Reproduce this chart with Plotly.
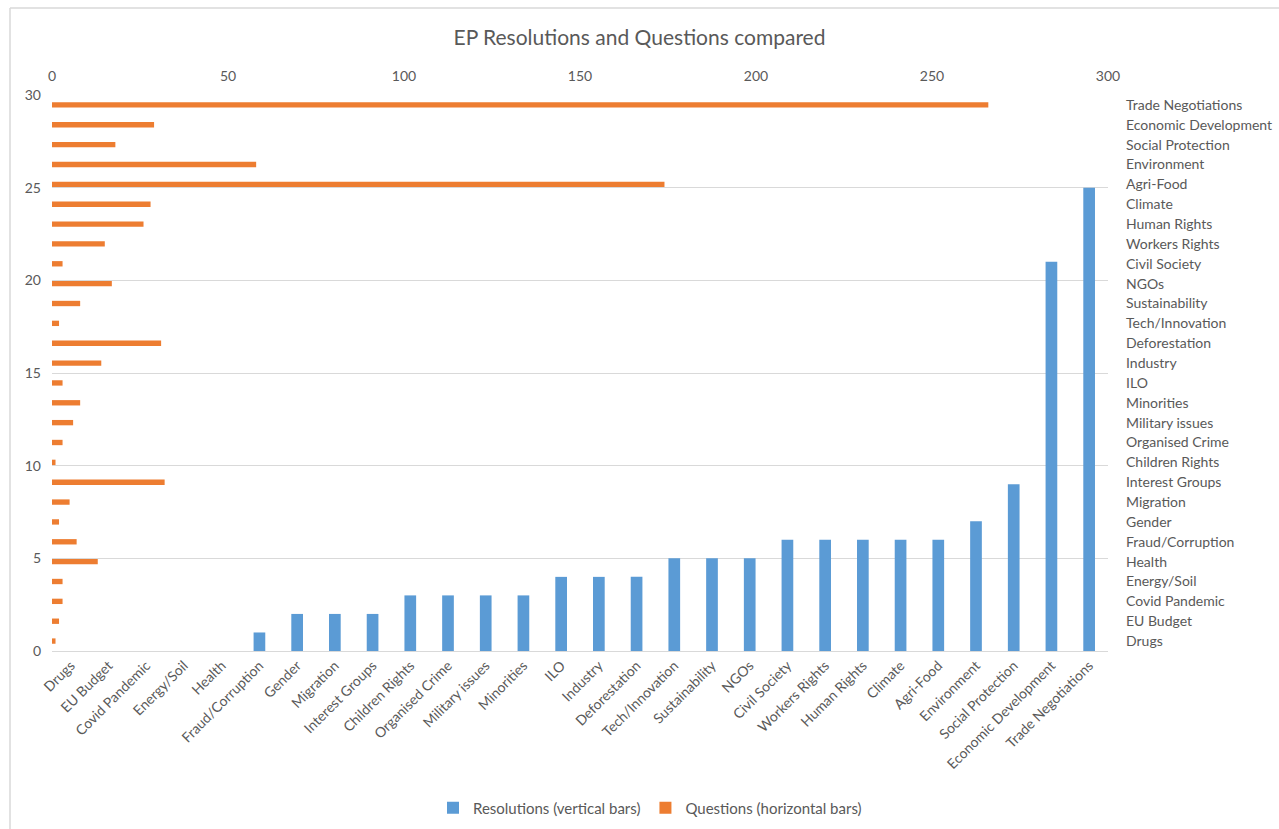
import plotly.graph_objects as go

# Policy topics, ordered by number of EP resolutions
categories = [
    "Drugs", "EU Budget", "Covid Pandemic", "Energy/Soil", "Health",
    "Fraud/Corruption", "Gender", "Migration", "Interest Groups",
    "Children Rights", "Organised Crime", "Military issues", "Minorities",
    "ILO", "Industry", "Deforestation", "Tech/Innovation", "Sustainability",
    "NGOs", "Civil Society", "Workers Rights", "Human Rights", "Climate",
    "Agri-Food", "Environment", "Social Protection", "Economic Development",
    "Trade Negotiations",
]

# Number of resolutions per topic (vertical bars, left axis)
resolutions = [0, 0, 0, 0, 0, 1, 2, 2, 2, 3, 3, 3, 3, 4, 4, 4, 5, 5, 5,
               6, 6, 6, 6, 6, 7, 9, 21, 25]

# Number of parliamentary questions per topic (horizontal bars, top axis)
questions = [1, 2, 3, 3, 13, 7, 2, 5, 32, 1, 3, 6, 8, 3, 14, 31, 2, 8,
             17, 3, 15, 26, 28, 174, 58, 18, 29, 266]

left_ticks = [0, 5, 10, 15, 20, 25, 30]
top_ticks = [0, 50, 100, 150, 200, 250, 300]

BLUE = "#5B9BD5"
ORANGE = "#ED7D31"
TEXT = "#595959"
GRID = "#D9D9D9"
FONT = "Lato"

fig = go.Figure()

fig.add_trace(go.Bar(
    x=categories, y=resolutions,
    xaxis="x", yaxis="y",
    name="Resolutions (vertical bars)",
    marker=dict(color=BLUE, line=dict(width=0)),
    width=[0.31] * len(categories),
    hoverinfo="x+y",
))

fig.add_trace(go.Bar(
    x=questions, y=categories,
    orientation="h",
    xaxis="x2", yaxis="y2",
    name="Questions (horizontal bars)",
    marker=dict(color=ORANGE, line=dict(width=0)),
    width=[0.27] * len(categories),
    hoverinfo="x+y",
))

W, H = 1279, 829
L, R, T, B = 52, 171, 95, 178
pw = W - L - R
ph = H - T - B

# Chart-area border (left and top edges)
bx = (10 - L) / pw
by = (H - B - 8) / ph
fig.add_shape(type="line", xref="paper", yref="paper",
              x0=bx, x1=bx, y0=by, y1=-0.5,
              line=dict(color=GRID, width=1.5))
fig.add_shape(type="line", xref="paper", yref="paper",
              x0=bx, x1=1.5, y0=by, y1=by,
              line=dict(color=GRID, width=1.5))

fig.update_layout(
    width=W, height=H, autosize=False,
    margin=dict(l=L, r=R, t=T, b=B, pad=0, autoexpand=False),
    paper_bgcolor="white", plot_bgcolor="white",
    font=dict(family=FONT, color=TEXT, size=14),
    title=dict(
        text="EP Resolutions and Questions compared",
        x=0.5, xref="container", xanchor="center",
        y=1 - 38 / H, yref="container", yanchor="middle",
        font=dict(family=FONT, size=21, color=TEXT),
    ),
    showlegend=True,
    legend=dict(
        orientation="h", x=0.5 + (650 - (L + pw / 2)) / pw, xanchor="center",
        y=-(808 - (H - B)) / ph, yanchor="middle",
        font=dict(family=FONT, size=15, color=TEXT),
        itemwidth=30, traceorder="normal",
    ),
    xaxis=dict(
        type="category", categoryorder="array", categoryarray=categories,
        range=[-0.5, len(categories) - 0.5], automargin=False,
        tickangle=-45, tickfont=dict(size=14, color=TEXT),
        showgrid=False, showline=True, linecolor=GRID, linewidth=1,
        ticks="", zeroline=False,
    ),
    yaxis=dict(
        range=[0, 30], tickvals=left_ticks, automargin=False,
        showgrid=True, gridcolor=GRID, gridwidth=1,
        showline=False, zeroline=False, ticks="",
        tickfont=dict(size=14, color=TEXT), ticklabelstandoff=10,
    ),
    xaxis2=dict(
        overlaying="x", side="top", anchor="y", automargin=False,
        range=[0, 300], tickvals=top_ticks,
        showgrid=False, showline=False, zeroline=False, ticks="",
        tickfont=dict(size=14, color=TEXT), ticklabelstandoff=10,
    ),
    yaxis2=dict(
        overlaying="y", side="right", anchor="x", automargin=False,
        type="category", categoryorder="array", categoryarray=categories,
        range=[-0.5, len(categories) - 0.5],
        showgrid=False, showline=False, zeroline=False, ticks="",
        tickfont=dict(size=14, color=TEXT), ticklabelstandoff=17,
    ),
)

fig.write_html("out.html", config={"displayModeBar": False})
